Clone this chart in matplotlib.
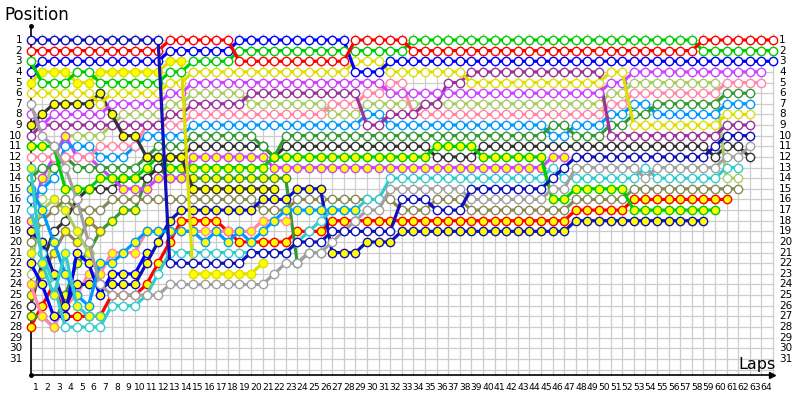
import matplotlib
matplotlib.use('Agg')
import matplotlib.pyplot as plt

# ---------------- data (position per lap, lap 0 = grid) ----------------
R1 = [2,2,2,2,2,2,2,2,2,2, 2,2,1,1,1,1,1,1,3,3, 3,3,3,3,3,3,3,3,1,1,
      1,1,1,2,2,2,2,2,2,2, 2,2,2,2,2,2,2,2,2,2, 2,2,2,2,2,2,2,2,1,1, 1,1,1,1,1]
G1 = [3,5,5,5,4,4,5,5,5,5, 5,5,4,4,3,3,3,3,2,2, 2,2,2,2,2,2,2,2,2,2,
      2,2,2,1,1,1,1,1,1,1, 1,1,1,1,1,1,1,1,1,1, 1,1,1,1,1,1,1,1,2,2, 2,2,2,2,2]
B2 = [4,3,3,3,3,3,3,3,3,3, 3,3,2,2,2,2,2,2,1,1, 1,1,1,1,1,1,1,1,4,4,
      4,3,3,3,3,3,3,3,3,3, 3,3,3,3,3,3,3,3,3,3, 3,3,3,3,3,3,3,3,3,3, 3,3,3,3,3]
NW = [1,1,1,1,1,1,1,1,1,1, 1,1,22,22,22,22,22,22,22,21, 21,21,21,20,20,20,19,19,19,19,
      19,19,16,16,16,17,17,17,15,15, 15,15,15,15,15,14,13,12,12,12, 12,12,12,12,12,12,12,12,12,11, 10,10,10]
Y2 = [5,4,4,4,5,5,4,4,4,4, 4,4,3,3,23,23,23,23,23,23, 22]
Y1 = [6,6,6,6,6,6,7,6,6,6, 6,6,5,5,4,4,4,4,4,4, 4,4,4,4,4,4,4,4,3,3,
      3,4,4,4,4,4,4,4,5,5, 5,5,5,5,5,5,5,5,5,5, 4,4,9,9,9,9,9,9,9,9, 8,8,8]
M1 = [8,9,8,8,8,8,8,7,7,7, 7,7,6,6,5,5,5,5,5,5, 5,5,5,5,5,5,5,5,5,5,
      5,6,6,6,6,6,6,6,6,6, 6,6,6,6,6,6,6,6,6,6, 5,5,4,4,4,4,4,4,4,4, 4,4,4,4]
LG1 = [23,16,12,10,10,10,10,9,8,8, 8,8,7,7,6,6,6,6,6,7, 7,7,7,7,7,7,8,8,8,7,
       7,7,7,7,7,7,7,7,7,7, 7,7,7,7,7,7,7,7,7,7, 6,6,5,5,5,5,5,5,5,5, 14,14]
PU1 = [10,9,9,9,9,9,9,9,9,9, 9,9,8,8,7,7,7,7,7,6, 6,6,6,6,6,6,6,6,6,9,
       9,8,8,8,7,7,5,5,4,4, 4,4,4,4,4,4,4,4,4,4, 10,10,10,10,10,10,10,10,10,10, 9,9,9]
K1 = [12,12,12,12,12,12,11,11,11,11, 9,9,9,9,8,8,8,8,8,8, 8,8,8,8,8,8,7,7,7,6,
      6,5,5,8,8,8,8,8,8,8, 8,8,8,8,8,8,8,8,8,8, 7,7,6,6,6,6,6,6,6,6, 5,5,5,5]
S1 = [16,15,14,11,11,11,12,12,12,11, 10,10,10,10,9,9,9,9,9,9, 9,9,9,9,9,9,9,9,9,8,
      8,9,9,9,9,9,9,9,9,9, 9,9,9,9,9,10,10,9,9,9, 8,8,7,7,8,8,8,8,8,8, 7,7,7]
DG1 = [14,13,13,12,13,13,13,13,13,13, 12,11,11,11,10,10,10,10,10,10, 11,12,10,10,10,10,10,10,10,10,
       10,10,10,10,10,10,10,10,10,10, 10,10,10,10,10,9,9,10,10,10, 9,9,8,8,7,7,7,7,7,7, 6,6,6]
BK1 = [26,22,19,18,16,15,15,15,14,14, 14,13,12,12,11,11,11,11,11,11, 11,12,11,11,11,11,11,11,11,11,
       11,11,11,11,11,12,12,12,12,11, 11,11,11,11,11,11,11,11,11,11, 11,11,11,11,11,11,11,11,11,12, 11,11,12]
G2 = [11,11,11,15,15,15,14,14,14,14, 13,12,13,13,13,13,13,13,13,13, 13,12,12,12,12,12,12,12,12,12,
      12,12,12,12,12,11,11,11,11,12, 12,12,12,12,12,16,16,15,15,15, 15,15,17,17,17,17,17,17,17,17]
GR1 = [7,10,11,13,16,20,24,25,25,25, 25,25,24,24,24,24,24,24,24,24, 24,23,22,22,21,21,20,19,18,17,
       17,15,15,15,15,15,15,15,16,16, 16,16,16,16,16,15,15,13,13,13, 13,13,13,14,13,13,13,13,13,13, 12,12,11]
C1 = [17,21,24,28,28,28,28,26,26,26, 25,23,21,21,21,21,21,21,21,21, 21,21,21,20,19,18,17,17,17,16,
      16,14,14,14,14,14,14,14,14,14, 14,14,14,14,14,13,14,14,14,14, 14,14,14,13,14,14,14,14,14,14, 13,13]
O1 = [20,18,17,16,17,17,17,16,16,16, 16,16,16,16,16,16,16,16,16,16, 17,17,17,16,16,16,16,16,16,16,
      16,16,17,17,17,16,16,16,17,17, 17,17,17,17,17,17,17,16,16,16, 16,16,15,15,15,15,15,15,15,15, 15,15]
N2 = [19,20,23,26,24,24,24,24,24,24, 22,20,18,17,17,17,17,17,17,17, 16,16,16,15,15,15,21,21,21,20,
      20,20,19,19,19,19,19,19,19,19, 19,19,19,19,19,19,19,18,18,18, 18,18,18,18,18,18,18,18,18]
R2 = [28,26,24,27,27,27,27,25,25,25, 24,22,20,18,18,18,18,19,20,20, 20,20,20,19,19,19,18,18,18,18,
      18,18,18,18,18,18,18,18,18,18, 18,18,18,18,18,18,18,17,17,17, 17,17,16,16,16,16,16,16,16,16, 16]
BK2 = [9,8,7,7,7,7,6,8,10,10, 12,12,12,12,15,15,15,15,15,15, 15,15]
M2 = [18,14,12,10,12,12,13,14,15,15, 15,14,14,14,12,12,12,12,12,12, 12,13,13,13,13,13,13,13,13,13,
      13,13,13,13,13,13,13,13,13,13, 13,13,13,13,13,12,12]
DG2 = [27,27,28,25,22,21,19,18,17,17, 14,13,14,14,14,14,14,14,14,14, 14,14,14,22,21,21]
K2 = [24,27,28,26,25,23,23,21,21,21, 19,19,19,19,19,19,19,19,19,19, 18,18,18]
S2 = [15,17,20,23,25,26,22,22,21,20, 19,19,19,19,19,20,19,20,19,20, 19,18,17,17,17,17,17,17,17]
C2 = [13,22,25,21,26,27,27]
O2 = [25,23,21,19,20,18,19]
LG2 = [21,17,16,17,19,21]
B3 = [22,24,27,27,21,22,25,23,23,23, 21]

# colours
BLUE, NAVY, RED, GREEN = '#0000ff', '#1010b8', '#ff0000', '#00cc00'
YEL, MAG, LGR, PUR = '#dede00', '#cc44ff', '#aacc66', '#993399'
PINK, SKY, DGR, BLK = '#ff88aa', '#0099ff', '#339933', '#333333'
GRY, CYA, OLV = '#a0a0a0', '#33cccc', '#888855'
W_, Y_ = 'white', '#ffff00'

drivers = [  # (positions, line colour, fill)
    (R2, RED, Y_), (DG2, DGR, Y_), (BK1, BLK, W_), (O2, OLV, Y_), (K2, PINK, Y_),
    (LG1, LGR, W_), (B3, BLUE, Y_), (LG2, LGR, Y_), (O1, OLV, W_), (N2, NAVY, Y_),
    (M2, MAG, Y_), (C1, CYA, W_), (S1, SKY, W_), (S2, SKY, Y_), (DG1, DGR, W_),
    (C2, CYA, Y_), (K1, PINK, W_), (G2, GREEN, Y_), (PU1, PUR, W_), (BK2, BLK, Y_),
    (M1, MAG, W_), (GR1, GRY, W_), (Y1, YEL, W_), (Y2, YEL, Y_), (B2, BLUE, W_),
    (G1, GREEN, W_), (R1, RED, W_), (NW, NAVY, W_),
]

LAPS = list(range(1, 65))
POSITIONS = list(range(1, 32))

# ---------------- geometry ----------------
W, H = 800, 400
X0, DX = 30.5, 11.6
Y0, DY = 40.0, 10.63


def lx(x):
    return (x - X0) / DX


def py(y):
    return (y - Y0) / DY + 1


fig = plt.figure(figsize=(8, 4), dpi=100)
ax = fig.add_axes([0, 0, 1, 1])
ax.set_xlim(lx(0), lx(W))
ax.set_ylim(py(H), py(0))
ax.axis('off')

# grid
for k in range(0, 65):
    ax.plot([k, k], [py(34), py(375)], color='#cccccc', lw=0.9, zorder=0)
for p in range(1, 33):
    ax.plot([0, 64], [p, p], color='#cccccc', lw=0.9, zorder=0)

# axes
ax.plot([0, 0], [py(375), py(26)], color='black', lw=1.2, zorder=1)
ax.plot([0], [py(26)], 'o', color='black', ms=2.5, zorder=1)
ax.plot([0], [py(375)], 'o', color='black', ms=2.5, zorder=1)
ax.plot([0, lx(772)], [py(375), py(375)], color='black', lw=1.2, zorder=1)
ax.plot([lx(772)], [py(375)], '>', color='black', ms=5, zorder=1)

# series
z = 2
for pos, col, fill in drivers:
    laps = list(range(len(pos)))
    ax.plot(laps, pos, '-', color=col, lw=2.3, zorder=z, solid_joinstyle='round')
    ax.plot(laps, pos, 'o', color=col, mfc=fill, mec=col, ms=6.0, mew=1.0, zorder=z + 0.5)
    z += 1

# labels
for p in POSITIONS:
    ax.text(lx(22), p, str(p), ha='right', va='center', fontsize=7.5, color='black')
    ax.text(lx(779), p, str(p), ha='left', va='center', fontsize=7.5, color='black')
for k in LAPS:
    ax.text(k - 0.55, py(388), str(k), ha='center', va='center', fontsize=6.6, color='black')

ax.text(lx(4), py(15), 'Position', ha='left', va='center', fontsize=12, color='black')
ax.text(lx(776), py(365), 'Laps', ha='right', va='center', fontsize=11.5, color='black')

fig.savefig('out.png', dpi=100)
